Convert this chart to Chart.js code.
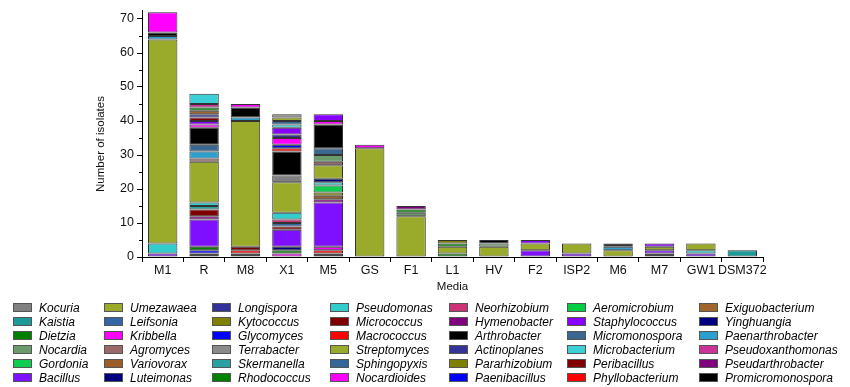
<!DOCTYPE html>
<html>
<head>
<meta charset="utf-8">
<script src="https://cdn.jsdelivr.net/npm/chart.js@4.4.1/dist/chart.umd.min.js"></script>
<style>
  body { margin: 0; background: #fff; }
  #wrap { position: relative; width: 850px; height: 387px; }
  #legend { position: absolute; left: 0; top: 0; width: 850px; height: 387px; pointer-events: none;
    font-family: "Liberation Sans", Arial, sans-serif; font-style: italic; font-size: 12px; color: #000; }
  .item { position: absolute; white-space: nowrap; line-height: 14px; }
  .sw { display: inline-block; width: 17px; height: 7px; border: 1px solid #555; vertical-align: middle; margin-right: 7px; position: relative; top: -1px; }
</style>
</head>
<body>
<div id="wrap">
  <canvas id="chart" width="850" height="387"></canvas>
  <div id="legend"></div>
</div>
<script>
// media (x categories)
const media = ['M1', 'R', 'M8', 'X1', 'M5', 'GS', 'F1', 'L1', 'HV', 'F2', 'ISP2', 'M6', 'M7', 'GW1', 'DSM372'];
const yTicks = [0, 10, 20, 30, 40, 50, 60, 70];

// number of isolates per genus, same order as media
const arthrobacter      = [0, 1, 1, 0, 1, 0, 0, 0, 0, 0, 0, 0, 1, 0, 0];
const macrococcus       = [0, 0, 1, 0, 1, 0, 0, 0, 0, 0, 0, 0, 0, 0, 0];
const kribbella         = [0, 0, 0, 1, 1, 0, 0, 0, 0, 0, 0, 0, 0, 0, 0];
const glycomyces        = [0, 1, 0, 0, 0, 0, 0, 0, 0, 0, 0, 0, 0, 0, 0];
const dietzia           = [0, 1, 0, 1, 0, 0, 0, 1, 0, 0, 0, 0, 0, 0, 0];
const luteimonas        = [0, 0, 0, 1, 0, 0, 0, 0, 0, 0, 0, 0, 0, 0, 0];
const bacillus          = [1, 8, 0, 5, 13, 0, 0, 0, 0, 2, 1, 0, 1, 1, 0];
const hymenobacter      = [0, 1, 0, 0, 1, 0, 0, 0, 0, 0, 0, 0, 0, 0, 0];
const micrococcus       = [0, 2, 1, 1, 0, 0, 0, 0, 0, 0, 0, 0, 0, 0, 0];
const variovorax        = [0, 0, 0, 0, 1, 0, 0, 0, 0, 0, 0, 0, 0, 0, 0];
const kytococcus        = [0, 0, 0, 0, 1, 0, 0, 0, 0, 0, 0, 0, 0, 0, 0];
const gordonia          = [0, 0, 0, 0, 2, 0, 0, 0, 0, 0, 0, 0, 0, 0, 0];
const leifsonia         = [0, 0, 0, 1, 0, 0, 0, 0, 0, 0, 0, 0, 0, 0, 0];
const neorhizobium      = [0, 0, 0, 1, 0, 0, 0, 0, 0, 0, 0, 0, 0, 0, 0];
const skermanella       = [0, 1, 0, 0, 0, 0, 0, 0, 0, 0, 0, 0, 0, 0, 0];
const pseudomonas       = [3, 1, 0, 2, 1, 0, 0, 0, 0, 0, 0, 0, 0, 1, 0];
const yinghuangia       = [0, 0, 0, 0, 1, 0, 0, 0, 0, 0, 0, 0, 0, 0, 0];
const streptomyces      = [60, 12, 37, 9, 4, 32, 12, 2, 3, 2, 3, 2, 1, 2, 0];
const agromyces         = [0, 1, 0, 0, 1, 0, 0, 0, 0, 0, 0, 0, 0, 0, 0];
const nocardia          = [0, 0, 0, 0, 2, 0, 1, 0, 1, 0, 0, 0, 0, 0, 0];
const kocuria           = [0, 0, 0, 2, 0, 0, 0, 0, 0, 0, 0, 0, 0, 0, 0];
const paenarthrobacter  = [1, 2, 1, 0, 0, 0, 0, 0, 0, 0, 0, 1, 0, 0, 0];
const micromonospora    = [0, 2, 0, 0, 2, 0, 0, 0, 0, 0, 0, 0, 0, 0, 0];
const promicromonospora = [1, 5, 3, 7, 7, 0, 0, 0, 1, 0, 0, 1, 0, 0, 0];
const phyllobacterium   = [0, 0, 0, 1, 0, 0, 0, 0, 0, 0, 0, 0, 0, 0, 0];
const paenibacillus     = [0, 0, 0, 1, 0, 0, 0, 0, 0, 0, 0, 0, 0, 0, 0];
const nocardioides      = [6, 1, 1, 2, 1, 1, 0, 0, 0, 0, 0, 0, 0, 0, 0];
const longispora        = [0, 0, 0, 1, 0, 0, 0, 0, 0, 0, 0, 0, 0, 0, 0];
const staphylococcus    = [0, 1, 0, 2, 2, 0, 0, 0, 0, 1, 0, 0, 1, 0, 0];
const peribacillus      = [0, 1, 0, 0, 0, 0, 0, 0, 0, 0, 0, 0, 0, 0, 0];
const actinoplanes      = [0, 1, 0, 0, 0, 0, 0, 0, 0, 0, 0, 0, 0, 0, 0];
const exiguobacterium   = [0, 1, 0, 0, 0, 0, 0, 0, 0, 0, 0, 0, 0, 0, 0];
const rhodococcus       = [0, 1, 0, 0, 0, 0, 1, 1, 0, 0, 0, 0, 0, 0, 0];
const pseudarthrobacter = [0, 0, 0, 0, 0, 0, 1, 0, 0, 0, 0, 0, 0, 0, 0];
const pseudoxanthomonas = [0, 1, 0, 0, 0, 0, 0, 0, 0, 0, 0, 0, 0, 0, 0];
const microbacterium    = [0, 3, 0, 1, 0, 0, 0, 0, 0, 0, 0, 0, 0, 0, 0];
const sphingopyxis      = [0, 0, 0, 1, 0, 0, 0, 0, 0, 0, 0, 0, 0, 0, 0];
const umezawaea         = [0, 0, 0, 1, 0, 0, 0, 0, 0, 0, 0, 0, 0, 0, 0];
const terrabacter       = [0, 0, 0, 1, 0, 0, 0, 0, 0, 0, 0, 0, 0, 0, 0];
const pararhizobium     = [0, 0, 0, 0, 0, 0, 0, 1, 0, 0, 0, 0, 0, 0, 0];
const kaistia           = [0, 0, 0, 0, 0, 0, 0, 0, 0, 0, 0, 0, 0, 0, 2];
const aeromicrobium     = [0, 0, 0, 0, 0, 0, 0, 0, 0, 0, 0, 0, 0, 0, 0];

// stacking order, bottom -> top
const stack = [
  ['Arthrobacter', arthrobacter], ['Macrococcus', macrococcus], ['Kribbella', kribbella],
  ['Glycomyces', glycomyces], ['Dietzia', dietzia], ['Luteimonas', luteimonas],
  ['Bacillus', bacillus], ['Hymenobacter', hymenobacter], ['Micrococcus', micrococcus],
  ['Variovorax', variovorax], ['Kytococcus', kytococcus], ['Gordonia', gordonia],
  ['Leifsonia', leifsonia], ['Neorhizobium', neorhizobium], ['Skermanella', skermanella],
  ['Pseudomonas', pseudomonas], ['Yinghuangia', yinghuangia], ['Streptomyces', streptomyces],
  ['Agromyces', agromyces], ['Nocardia', nocardia], ['Kocuria', kocuria],
  ['Paenarthrobacter', paenarthrobacter], ['Micromonospora', micromonospora], ['Promicromonospora', promicromonospora],
  ['Phyllobacterium', phyllobacterium], ['Paenibacillus', paenibacillus], ['Nocardioides', nocardioides],
  ['Longispora', longispora], ['Staphylococcus', staphylococcus], ['Peribacillus', peribacillus],
  ['Actinoplanes', actinoplanes], ['Exiguobacterium', exiguobacterium], ['Rhodococcus', rhodococcus],
  ['Pseudarthrobacter', pseudarthrobacter], ['Pseudoxanthomonas', pseudoxanthomonas], ['Microbacterium', microbacterium],
  ['Sphingopyxis', sphingopyxis], ['Umezawaea', umezawaea], ['Terrabacter', terrabacter],
  ['Pararhizobium', pararhizobium], ['Kaistia', kaistia], ['Aeromicrobium', aeromicrobium]
];

// legend, read column by column
const legendOrder = [
  'Kocuria', 'Kaistia', 'Dietzia', 'Nocardia', 'Gordonia', 'Bacillus',
  'Umezawaea', 'Leifsonia', 'Kribbella', 'Agromyces', 'Variovorax', 'Luteimonas',
  'Longispora', 'Kytococcus', 'Glycomyces', 'Terrabacter', 'Skermanella', 'Rhodococcus',
  'Pseudomonas', 'Micrococcus', 'Macrococcus', 'Streptomyces', 'Sphingopyxis', 'Nocardioides',
  'Neorhizobium', 'Hymenobacter', 'Arthrobacter', 'Actinoplanes', 'Pararhizobium', 'Paenibacillus',
  'Aeromicrobium', 'Staphylococcus', 'Micromonospora', 'Microbacterium', 'Peribacillus', 'Phyllobacterium',
  'Exiguobacterium', 'Yinghuangia', 'Paenarthrobacter', 'Pseudoxanthomonas', 'Pseudarthrobacter', 'Promicromonospora'
];

const colors = {
  Kocuria: '#808080', Kaistia: '#1C9A9A', Dietzia: '#007F00', Nocardia: '#6B9B6B', Gordonia: '#10CC50', Bacillus: '#7F10FF',
  Umezawaea: '#9BAA2B', Leifsonia: '#3465A4', Kribbella: '#FF00FF', Agromyces: '#9A6868', Variovorax: '#9A5F28', Luteimonas: '#00007F',
  Longispora: '#32329A', Kytococcus: '#808000', Glycomyces: '#0000FF', Terrabacter: '#8A8A8A', Skermanella: '#2AA0A0', Rhodococcus: '#008000',
  Pseudomonas: '#33CCCC', Micrococcus: '#800000', Macrococcus: '#FF0000', Streptomyces: '#9AAA2A', Sphingopyxis: '#336699', Nocardioides: '#FF00FF',
  Neorhizobium: '#CC3377', Hymenobacter: '#800080', Arthrobacter: '#000000', Actinoplanes: '#333399', Pararhizobium: '#808000', Paenibacillus: '#0000FF',
  Aeromicrobium: '#00CC44', Staphylococcus: '#8800FF', Micromonospora: '#3A6790', Microbacterium: '#3CCFD6', Peribacillus: '#800000', Phyllobacterium: '#FF0000',
  Exiguobacterium: '#A0662C', Yinghuangia: '#000080', Paenarthrobacter: '#2D9FCF', Pseudoxanthomonas: '#CC3399', Pseudarthrobacter: '#800080', Promicromonospora: '#000000'
};

const FONT = '"Liberation Sans", Arial, sans-serif';

// short minor ticks on the y axis (5, 15, ...) and the y axis title
const yExtras = {
  id: 'yExtras',
  afterDraw(chart) {
    const y = chart.scales.y;
    const ctx = chart.ctx;
    ctx.save();
    ctx.strokeStyle = '#000';
    ctx.lineWidth = 1;
    for (let i = 0; i < yTicks.length - 1; i++) {
      const py = Math.round(y.getPixelForValue((yTicks[i] + yTicks[i + 1]) / 2)) + 0.5;
      ctx.beginPath();
      ctx.moveTo(y.right - 3, py);
      ctx.lineTo(y.right, py);
      ctx.stroke();
    }
    ctx.translate(101, 144);
    ctx.rotate(-Math.PI / 2);
    ctx.fillStyle = '#111';
    ctx.font = '11.5px ' + FONT;
    ctx.textAlign = 'center';
    ctx.textBaseline = 'middle';
    ctx.fillText('Number of isolates', 0, 0);
    ctx.restore();
  }
};

const datasets = stack.map(function (s) {
  return {
    label: s[0],
    data: s[1].map(v => v === 0 ? null : v),
    backgroundColor: colors[s[0]],
    borderColor: '#333',
    borderWidth: 1,
    borderSkipped: false,
    barPercentage: 0.71,
    categoryPercentage: 1.0
  };
});

new Chart(document.getElementById('chart'), {
  type: 'bar',
  data: { labels: media, datasets: datasets },
  options: {
    responsive: false,
    animation: false,
    layout: { padding: { top: 10, right: 87, bottom: 92, left: 0 } },
    plugins: { legend: { display: false }, tooltip: { enabled: false } },
    scales: {
      x: {
        stacked: true,
        border: { display: true, color: '#000', width: 1 },
        grid: { display: true, drawOnChartArea: false, offset: true, tickLength: 5, color: '#000' },
        ticks: { color: '#111', font: { family: FONT, size: 12.5 }, padding: 1, maxRotation: 0, autoSkip: false },
        title: { display: true, text: 'Media', color: '#111', font: { family: FONT, size: 11.5 }, padding: { top: 0, bottom: 1 } },
        afterFit: function (scale) { scale.height = 38; }
      },
      y: {
        stacked: true,
        min: 0,
        max: 72.5,
        border: { display: true, color: '#000', width: 1 },
        grid: { display: true, drawOnChartArea: false, tickLength: 5, color: '#000' },
        ticks: { stepSize: 10, color: '#111', font: { family: FONT, size: 12.5 }, padding: 3 },
        afterBuildTicks: function (scale) {
          scale.ticks = yTicks.map(v => ({ value: v }));
        },
        afterFit: function (scale) { scale.width = 142; }
      }
    }
  },
  plugins: [yExtras]
});

// legend below the plot, 7 columns x 6 rows
const colX = [13, 104, 212, 330, 449, 567, 699];
const rowY = [301, 315, 329, 343, 357, 371];
const legendBox = document.getElementById('legend');
legendOrder.forEach(function (name, i) {
  const col = Math.floor(i / 6), row = i % 6;
  const el = document.createElement('div');
  el.className = 'item';
  el.style.left = colX[col] + 'px';
  el.style.top = rowY[row] + 'px';
  el.innerHTML = '<span class="sw" style="background:' + colors[name] + '"></span>' + name;
  legendBox.appendChild(el);
});
</script>
</body>
</html>
